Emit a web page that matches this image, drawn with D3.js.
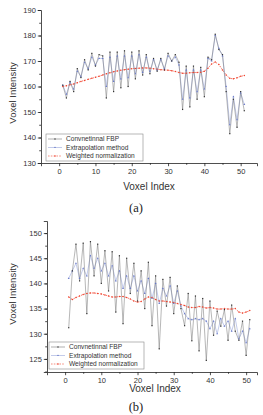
<!DOCTYPE html>
<html>
<head>
<meta charset="utf-8">
<script src="https://cdn.jsdelivr.net/npm/d3@7"></script>
<style>
  body { margin: 0; background: #fff; }
  svg { display: block; }
</style>
</head>
<body>
<svg id="svg" width="263" height="415"></svg>
<script>
// ---- data ----
const seriesNames = ["Convnetinnal FBP", "Extrapolation method", "Weighted normalization"];
const xTicks = [0, 10, 20, 30, 40, 50];
const aYTicks = [130, 140, 150, 160, 170, 180, 190];
const bYTicks = [125, 130, 135, 140, 145, 150];

// panel (a)
const aFbp = [160.5, 155.5, 162, 158, 167, 163.5, 170.5, 166.5, 173, 168, 172.5, 172, 155.5, 173.5, 158, 173.5, 159.5, 174, 160, 173.5,
  163, 174, 164.5, 172.5, 165, 171, 166, 171, 166.5, 173, 170, 172.5, 169.5, 151, 168, 152, 168, 155, 167.5, 156,
  171.5, 170.5, 180.5, 174.5, 172.5, 158, 141.5, 155, 144, 158, 150.5];
const aExt = [160.5, 157, 161.5, 159, 166, 164, 169.5, 167, 171.5, 168.5, 171, 171, 160, 171.5, 162, 172, 163, 172, 163.5, 172,
  165, 172.5, 165.5, 171.5, 166, 170.5, 166.5, 170.5, 167, 172, 170, 171.5, 168.5, 155, 166.5, 155.5, 166.5, 158, 166.5, 159,
  171, 170, 180, 175, 172, 160, 145, 156, 147, 157.5, 153];
const aWn = [160, 160.3, 160.7, 161, 161.5, 162, 162.4, 162.8, 163.2, 163.6, 164, 164.5, 165, 165.4, 165.8, 166.1, 166.4, 166.6, 166.8, 167,
  167.1, 167.2, 167.3, 167.3, 167.2, 167, 166.8, 166.6, 166.5, 166.4, 166.2, 165.9, 165.5, 165.2, 165.2, 165.4, 165.5, 165.5, 165.6, 166,
  167.2, 168.8, 169.6, 168.6, 166.5, 164.5, 163.2, 163, 163.4, 164, 164.3];

// panel (b)
const bFbp = [131.2, 142.5, 147.8, 140.5, 148, 134, 148.3, 141.5, 147.8, 140, 146.5, 138.5, 146.3, 134.3, 145.5, 132, 145, 138, 144, 136.5,
  142.5, 135, 144.2, 131.6, 141.5, 127, 140.8, 135.5, 141.2, 134, 139.5, 135, 131.6, 138, 128.6, 137.5, 126.6, 137, 124.7, 136.5,
  129.7, 134.5, 131.5, 134.8, 128.7, 135.7, 130.5, 128.7, 132.5, 125.7, 132.8];
const bExt = [141, 142.5, 144, 141, 143, 141.5, 145.5, 143, 145, 142.5, 144, 141.5, 143.5, 140.5, 142.5, 139, 141.5, 139, 141.5, 138.5,
  140.5, 138, 141, 137, 140, 136, 139, 137.5, 139.5, 136, 138.5, 135.5, 134, 133, 132.8, 133, 132.8, 133, 132.5, 131,
  132.5, 130, 133, 131.5, 132.5, 130.5, 133, 129, 130.5, 128.2, 131];
const bWn = [137.3, 136.8, 137.2, 137.5, 137.8, 138, 138.1, 138.1, 138, 137.9, 137.7, 137.5, 137.3, 137.3, 137.4, 137.4, 137.2, 136.9, 136.5, 136.3,
  136.4, 136.9, 137.3, 137.2, 136.8, 136.5, 136.5, 136.4, 136.3, 136.2, 136, 135.8, 135.6, 135.3, 135.2, 135.2, 135.4, 135.3, 135.1, 135.2,
  135.1, 134.9, 134.9, 135, 134.9, 134.9, 135, 134.3, 134.1, 134.3, 134.6];

const sans = "'Liberation Sans', Arial, sans-serif";
const colors = ["#555", "#9aa8dc", "#f0432e"];

const svg = d3.select("#svg");
svg.append("rect").attr("width", 263).attr("height", 415).attr("fill", "#fff");

function drawPanel(cfg) {
  const x = d3.scaleLinear().domain(cfg.xDomain).range([cfg.left, cfg.right]);
  const y = d3.scaleLinear().domain(cfg.yDomain).range([cfg.bottom, cfg.top]);
  const g = svg.append("g");

  // minor ticks
  const minorX = d3.range(-5, cfg.xDomain[1], 5).filter(v => v % 10 !== 0 && v > cfg.xDomain[0]);
  const minorY = d3.range(cfg.yTicks[0] - cfg.yStep / 2, cfg.yDomain[1], cfg.yStep / 2)
    .filter(v => v > cfg.yDomain[0]);

  g.append("g").attr("transform", `translate(0,${cfg.bottom})`)
    .call(d3.axisBottom(x).tickValues(minorX).tickSize(1.8).tickFormat(""))
    .call(a => a.select(".domain").remove());
  g.append("g").attr("transform", `translate(${cfg.left},0)`)
    .call(d3.axisLeft(y).tickValues(minorY).tickSize(1.8).tickFormat(""))
    .call(a => a.select(".domain").remove());

  g.append("g").attr("transform", `translate(0,${cfg.bottom})`)
    .call(d3.axisBottom(x).tickValues(xTicks).tickSizeOuter(0).tickSize(3.2).tickPadding(2));
  g.append("g").attr("transform", `translate(${cfg.left},0)`)
    .call(d3.axisLeft(y).tickValues(cfg.yTicks).tickSizeOuter(0).tickSize(3.2).tickPadding(2));
  g.selectAll(".domain, .tick line").attr("stroke", "#222").attr("stroke-width", 0.8);
  g.selectAll(".tick text").attr("font-family", sans).attr("font-size", 7.5).attr("fill", "#333");

  // axis titles
  g.append("text").attr("x", cfg.xTitle[0]).attr("y", cfg.xTitle[1])
    .attr("text-anchor", "middle").attr("font-family", sans).attr("font-size", 10).attr("fill", "#333")
    .text("Voxel Index");
  g.append("text").attr("transform", `translate(${cfg.yTitle[0]},${cfg.yTitle[1]}) rotate(-90)`)
    .attr("text-anchor", "middle").attr("font-family", sans).attr("font-size", 9.5).attr("fill", "#333")
    .text("Voxel Intensity");
  g.append("text").attr("x", 136).attr("y", cfg.caption)
    .attr("text-anchor", "middle").attr("font-family", "'Liberation Serif', 'Times New Roman', serif")
    .attr("font-size", 12.5).attr("fill", "#222").text(cfg.label);

  const line = d3.line().x((d, i) => x(i + 1)).y(d => y(d));
  const series = cfg.series;

  // weighted normalization (red dotted)
  g.append("path").attr("d", line(series[2])).attr("fill", "none")
    .attr("stroke", colors[2]).attr("stroke-width", 0.8).attr("stroke-dasharray", "1.6,1.2").attr("opacity", 0.9);
  // extrapolation (blue)
  g.append("path").attr("d", line(series[1])).attr("fill", "none")
    .attr("stroke", colors[1]).attr("stroke-width", 0.6);
  // FBP (gray)
  g.append("path").attr("d", line(series[0])).attr("fill", "none")
    .attr("stroke", "#7a7a7a").attr("stroke-width", 0.55);

  g.append("g").selectAll("circle").data(series[2]).join("circle")
    .attr("cx", (d, i) => x(i + 1)).attr("cy", d => y(d)).attr("r", 0.75).attr("fill", colors[2]);
  const tri = d3.symbol().type(d3.symbolTriangle).size(1.6);
  g.append("g").selectAll("path").data(series[1]).join("path")
    .attr("d", tri).attr("transform", (d, i) => `translate(${x(i + 1)},${y(d)})`).attr("fill", "#6576c8");
  g.append("g").selectAll("rect").data(series[0]).join("rect")
    .attr("x", (d, i) => x(i + 1) - 0.6).attr("y", d => y(d) - 0.6)
    .attr("width", 1.2).attr("height", 1.2).attr("fill", "#333");

  // legend
  const lg = g.append("g");
  const L = cfg.legend;
  lg.append("rect").attr("x", L.x).attr("y", L.y).attr("width", L.w).attr("height", L.h)
    .attr("fill", "#fff").attr("stroke", "#888").attr("stroke-width", 0.6);
  seriesNames.forEach((name, i) => {
    const yy = L.y + 5 + i * L.step;
    lg.append("line").attr("x1", L.x + 2).attr("x2", L.x + 16).attr("y1", yy).attr("y2", yy)
      .attr("stroke", i === 0 ? "#7a7a7a" : colors[i]).attr("stroke-width", 0.6)
      .attr("stroke-dasharray", i === 2 ? "1.6,1.2" : null);
    if (i === 0) lg.append("rect").attr("x", L.x + 8.4).attr("y", yy - 0.6).attr("width", 1.2).attr("height", 1.2).attr("fill", "#333");
    if (i === 1) lg.append("path").attr("d", tri).attr("transform", `translate(${L.x + 9},${yy})`).attr("fill", "#6576c8");
    if (i === 2) lg.append("circle").attr("cx", L.x + 9).attr("cy", yy).attr("r", 0.75).attr("fill", colors[2]);
    lg.append("text").attr("x", L.x + 20).attr("y", yy).attr("dy", "0.35em")
      .attr("font-family", sans).attr("font-size", 6.6).attr("fill", "#333").text(name);
  });
}

drawPanel({
  series: [aFbp, aExt, aWn], label: "(a)",
  xDomain: [-5, 54.5], yDomain: [130, 190], yTicks: aYTicks, yStep: 10,
  left: 41, right: 257, top: 10, bottom: 163,
  xTitle: [149, 190], yTitle: [16, 93], caption: 212,
  legend: { x: 46, y: 134, w: 97, h: 27, step: 8.5 }
});

drawPanel({
  series: [bFbp, bExt, bWn], label: "(b)",
  xDomain: [-5, 53], yDomain: [122.4, 152.4], yTicks: bYTicks, yStep: 5,
  left: 47, right: 257, top: 221, bottom: 372,
  xTitle: [155, 392], yTitle: [16, 294], caption: 411,
  legend: { x: 49, y: 342, w: 95, h: 27, step: 8.5 }
});
</script>
</body>
</html>
